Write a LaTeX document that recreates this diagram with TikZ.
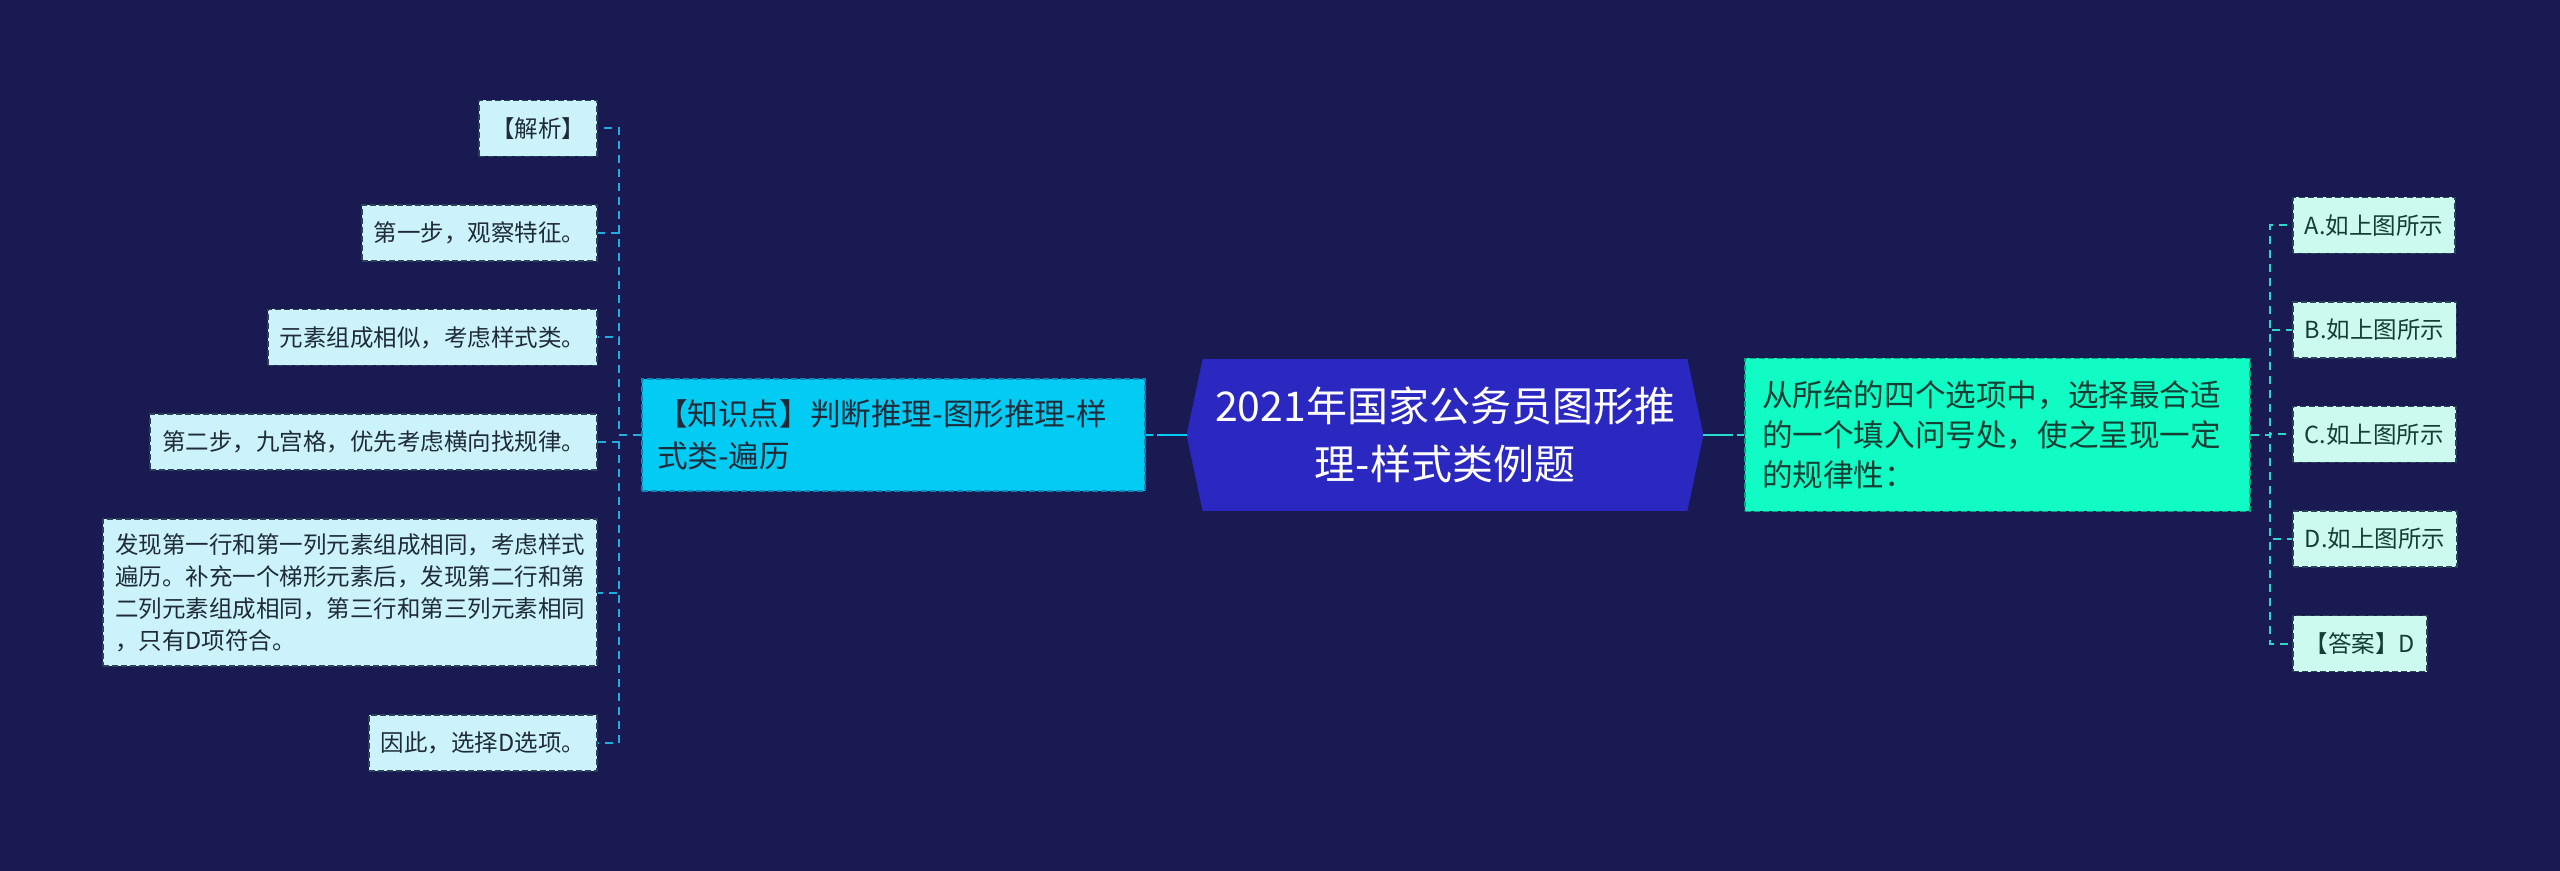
\documentclass[tikz,border=0pt]{standalone}
\usepackage{fontspec}
\setmainfont{Noto Sans CJK SC}
\usetikzlibrary{backgrounds}
\definecolor{bgc}{HTML}{1A1A52}
\definecolor{hexfill}{HTML}{2A28C0}
\definecolor{kpfill}{HTML}{02CCF3}
\definecolor{kpborder}{HTML}{0A86B8}
\definecolor{rnfill}{HTML}{10FCC4}
\definecolor{rnborder}{HTML}{0A9E80}
\definecolor{lleaffill}{HTML}{CCF3FB}
\definecolor{rleaffill}{HTML}{CCFAEF}
\definecolor{leafborder}{HTML}{2C4258}
\definecolor{ltext}{HTML}{1F2B38}
\definecolor{rtext}{HTML}{143E34}
\definecolor{lconncol}{HTML}{1FAEE0}
\definecolor{rconncol}{HTML}{2AD9C9}
\tikzset{
  boxdash/.style={dash pattern=on 3pt off 1.5pt, line width=0.9pt},
  hexnode/.style={align=center, text=white, inner sep=0pt,
    font=\fontsize{20.5pt}{29pt}\selectfont},
  kpbox/.style={draw=kpborder, boxdash, fill=kpfill, text=ltext, inner xsep=0pt, inner ysep=0pt,
    align=left, font=\fontsize{15.3pt}{21pt}\selectfont},
  rnbox/.style={draw=rnborder, boxdash, fill=rnfill, text=rtext, inner xsep=0pt, inner ysep=0pt,
    align=left, font=\fontsize{15.3pt}{20pt}\selectfont},
  lleaf/.style={draw=leafborder, boxdash, fill=lleaffill, text=ltext, anchor=east,
    minimum height=28pt, inner xsep=6pt, inner ysep=0pt, align=left,
    font=\fontsize{11.75pt}{16pt}\selectfont},
  rleaf/.style={draw=leafborder, boxdash, fill=rleaffill, text=rtext, anchor=west,
    minimum height=28pt, inner xsep=6pt, inner ysep=0pt, align=left,
    font=\fontsize{11.75pt}{16pt}\selectfont},
  lconn/.style={draw=lconncol, line width=1pt, dash pattern=on 4pt off 3pt},
  rconn/.style={draw=rconncol, line width=1pt, dash pattern=on 4pt off 3pt},
  mainconn/.style={line width=1pt, dash pattern=on 15pt off 2pt},
}
\begin{document}
\begin{tikzpicture}[x=0.5pt,y=-0.5pt]
\begin{scope}[on background layer]
\path[use as bounding box, fill=bgc] (0,0) rectangle (2560,871);
\end{scope}

% central node
\node[hexnode, minimum width=258pt, minimum height=75.5pt] (hex) at (1445,435)
  {2021年国家公务员图形推\\理-样式类例题};
\begin{scope}[on background layer]
\fill[hexfill] (hex.west) -- ([xshift=8pt]hex.north west) -- ([xshift=-8pt]hex.north east)
  -- (hex.east) -- ([xshift=-8pt]hex.south east) -- ([xshift=8pt]hex.south west) -- cycle;
\end{scope}

% second level
\node[kpbox, minimum width=251.5pt, minimum height=56pt, text width=236.5pt] (kp) at (893.5,435)
  {【知识点】判断推理-图形推理-样\\式类-遍历};
\node[rnbox, minimum width=252.5pt, minimum height=76.5pt, text width=235.5pt] (rn) at (1997.5,435)
  {从所给的四个选项中，选择最合适\\的一个填入问号处，使之呈现一定\\的规律性：};

% left leaves
\node[lleaf] (l1) at (598,128.5) {【解析】};
\node[lleaf] (l2) at (598,233) {第一步，观察特征。};
\node[lleaf] (l3) at (598,337.5) {元素组成相似，考虑样式类。};
\node[lleaf] (l4) at (598,442) {第二步，九宫格，优先考虑横向找规律。};
\node[lleaf, minimum height=73.5pt] (l5) at (598,592.5)
  {发现第一行和第一列元素组成相同，考虑样式\\遍历。补充一个梯形元素后，发现第二行和第\\二列元素组成相同，第三行和第三列元素相同\\，只有D项符合。};
\node[lleaf] (l6) at (598,743) {因此，选择D选项。};

% right leaves
\node[rleaf] (r1) at (2292,225.5) {A.如上图所示};
\node[rleaf] (r2) at (2292,330) {B.如上图所示};
\node[rleaf] (r3) at (2292,434.5) {C.如上图所示};
\node[rleaf] (r4) at (2292,539) {D.如上图所示};
\node[rleaf] (r5) at (2292,643.5) {【答案】D};

% connectors
\coordinate (jl) at (619,435);
\coordinate (jr) at (2270,435);
\draw[mainconn, draw=kpfill] (hex.west) -- (kp.east);
\draw[mainconn, draw=rconncol] (hex.east) -- (rn.west);
\foreach \n in {l1,l2,l3,l4,l5,l6}
  \draw[lconn] (kp.west) -- (jl) |- (\n.east);
\foreach \n in {r1,r2,r3,r4,r5}
  \draw[rconn] (rn.east) -- (jr) |- (\n.west);
\end{tikzpicture}
\end{document}
